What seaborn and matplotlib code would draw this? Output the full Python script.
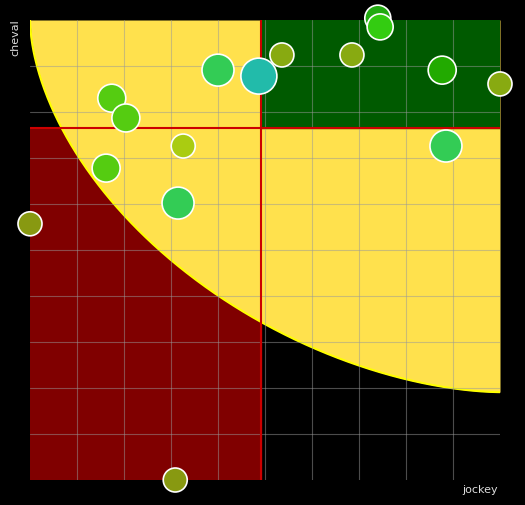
import matplotlib
matplotlib.use("Agg")
import matplotlib.pyplot as plt
import seaborn as sns
import pandas as pd
import numpy as np
from matplotlib.patches import Rectangle

jockey = [74.0, 74.5, 53.6, 68.5, 40.0, 48.7, 87.7, 100.0, 17.4, 20.4, 32.6, 88.5, 16.2, 31.5, 0.0, 30.9]
cheval = [100.4, 98.5, 92.4, 92.4, 89.1, 87.8, 89.1, 86.1, 83.0, 78.7, 72.6, 72.6, 67.8, 60.2, 55.7, 0.0]
colors = ["#22aa11", "#33cc11", "#88aa11", "#88aa11", "#33cc55", "#22bbaa", "#22aa00", "#88aa11",
          "#55cc11", "#55cc11", "#aacc11", "#33cc55", "#55cc11", "#33cc55", "#889911", "#889911"]
radius = [13, 13, 12, 12, 16, 18, 14, 12, 14, 14, 12, 16, 14, 16, 12, 12]
x_split, y_split = 49.1, 76.5
curve_depth, curve_exp = 80.9, 1.75

df = pd.DataFrame({"jockey": jockey, "cheval": cheval, "c": [str(i) for i in range(len(jockey))],
                   "s": [(r * 1.44) ** 2 for r in radius]})

sns.set_style("dark")
fig = plt.figure(figsize=(5.25, 5.05), dpi=100, facecolor="black")
ax = fig.add_axes([30/525, 25/505, 470/525, 460/505])
ax.set_facecolor("black")
ax.set_xlim(0, 100); ax.set_ylim(0, 100)

ax.add_patch(Rectangle((0, 0), x_split, y_split, color="#800000", zorder=1))
xs = np.linspace(0, 100, 400)
u = (100 - xs) / 100
ys = 100 - curve_depth * np.clip(1 - u ** curve_exp, 0, None) ** (1 / curve_exp)
ax.fill_between(xs, ys, 100, color="#ffe14d", zorder=2, lw=0)
ax.plot(xs, ys, color="yellow", lw=1.5, zorder=2)
ax.add_patch(Rectangle((x_split, y_split), 100 - x_split, 100 - y_split, color="#005a00", zorder=3))
for v in range(10, 100, 10):
    ax.axvline(v, color="#999999", lw=0.8, alpha=0.5, zorder=4)
    ax.axhline(v, color="#999999", lw=0.8, alpha=0.5, zorder=4)
ax.axvline(x_split, color="#cc0000", lw=1.5, zorder=5)
ax.axhline(y_split, color="#cc0000", lw=1.5, zorder=5)

sns.scatterplot(data=df, x="jockey", y="cheval", hue="c", palette=colors, size="s",
                sizes=(min(df.s), max(df.s)), edgecolor="white", linewidth=1.2,
                legend=False, ax=ax, zorder=6, clip_on=False)
ax.set_xticks([]); ax.set_yticks([])
ax.set_xlabel(""); ax.set_ylabel("")
for s in ax.spines.values():
    s.set_visible(False)
fig.text(15/525, 1 - 38/505, "cheval", rotation=90, color="#dddddd", fontsize=8, ha="center", va="center")
fig.text(480/525, 1 - 490/505, "jockey", color="#dddddd", fontsize=8, ha="center", va="center")
fig.savefig("out.png", dpi=100, facecolor="black")
